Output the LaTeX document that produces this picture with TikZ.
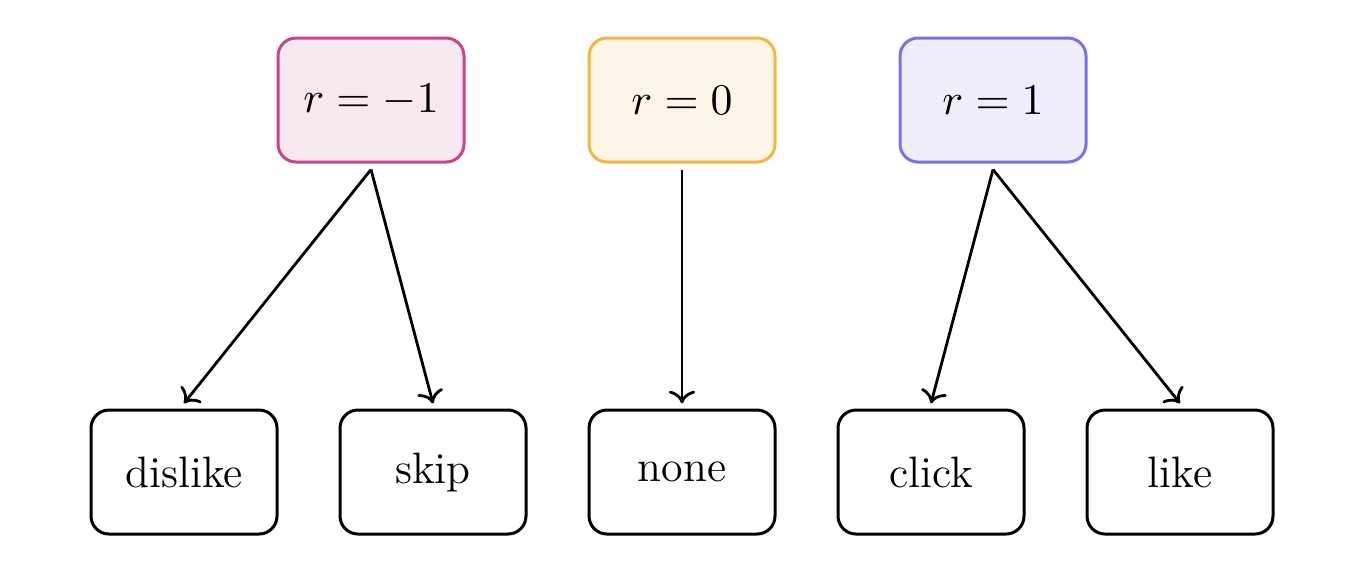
\documentclass[tikz,border=0pt]{standalone}
\usetikzlibrary{arrows.meta}
\definecolor{negc}{RGB}{204,68,136}
\definecolor{negf}{RGB}{248,232,240}
\definecolor{zeroc}{RGB}{245,182,64}
\definecolor{zerof}{RGB}{253,246,231}
\definecolor{posc}{RGB}{122,112,232}
\definecolor{posf}{RGB}{240,238,252}
\begin{document}
\begin{tikzpicture}[x=0.25pt,y=-0.25pt,
  box/.style={draw, line width=0.75pt, rounded corners=4.5pt, minimum width=46.5pt, minimum height=31pt, inner sep=0pt, font=\fontsize{11}{13}\selectfont},
  arr/.style={->, line width=0.7pt}]
\useasboundingbox (0,0) rectangle (1356,572);
\node[box, draw=negc, fill=negf] (rn) at (371,100) {$r=-1$};
\node[box, draw=zeroc, fill=zerof] (rz) at (682,100) {$r=0$};
\node[box, draw=posc, fill=posf] (rp) at (993,100) {$r=1$};
\node[box] (dislike) at (184,472) {dislike};
\node[box] (skip) at (433,472) {skip};
\node[box] (none) at (682,472) {none};
\node[box] (click) at (931,472) {click};
\node[box] (like) at (1180,472) {like};
\draw[arr] ([yshift=-1.5pt]rn.south) -- ([yshift=1.3pt]dislike.north);
\draw[arr] ([yshift=-1.5pt]rn.south) -- ([yshift=1.3pt]skip.north);
\draw[arr] ([yshift=-1.5pt]rz.south) -- ([yshift=1.3pt]none.north);
\draw[arr] ([yshift=-1.5pt]rp.south) -- ([yshift=1.3pt]click.north);
\draw[arr] ([yshift=-1.5pt]rp.south) -- ([yshift=1.3pt]like.north);
\end{tikzpicture}
\end{document}
